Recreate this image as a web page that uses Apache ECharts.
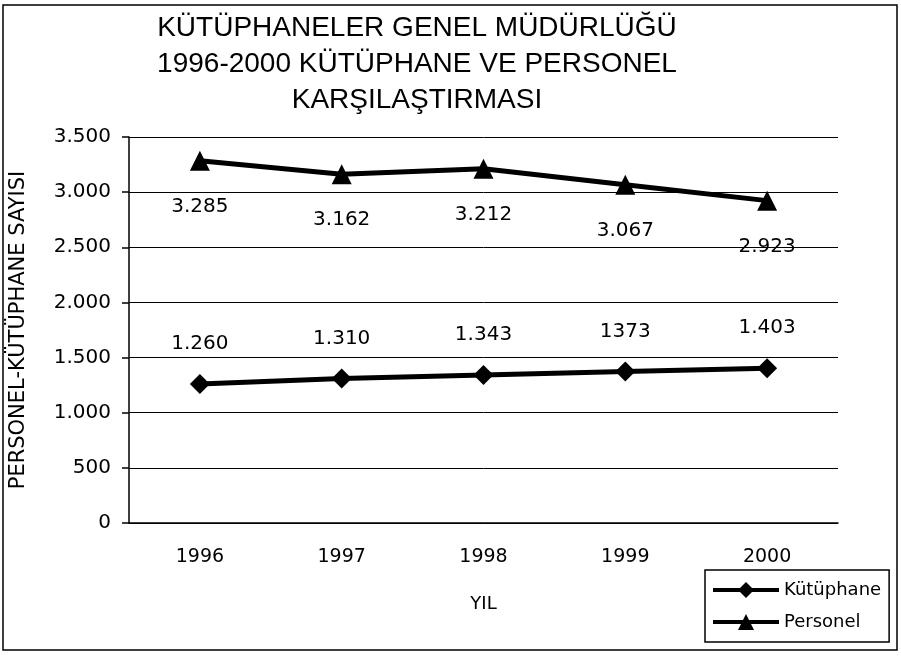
<!DOCTYPE html>
<html>
<head>
<meta charset="utf-8">
<script src="https://cdn.jsdelivr.net/npm/echarts@6/dist/echarts.min.js"></script>
<style>
  html, body { margin: 0; padding: 0; background: #fff; }
  #main { width: 901px; height: 657px; }
</style>
</head>
<body>
<div id="main"></div>
<script>
// veriler
var years = ['1996', '1997', '1998', '1999', '2000'];
var kutuphane = [1260, 1310, 1343, 1373, 1403];
var personel = [3285, 3162, 3212, 3067, 2923];
// grafikteki etiketler (1373 noktasız yazılmış)
var kutuphaneLabels = ['1.260', '1.310', '1.343', '1373', '1.403'];
var personelLabels = ['3.285', '3.162', '3.212', '3.067', '2.923'];
var yTicks = [0, 500, 1000, 1500, 2000, 2500, 3000, 3500];

var TFONT = 'Liberation Sans, Arial, sans-serif';
var FONT = 'DejaVu Sans, sans-serif';

function fmt(v) {
  return String(v).replace(/\B(?=(\d{3})+(?!\d))/g, '.');
}

var chart = echarts.init(document.getElementById('main'), null, { renderer: 'canvas' });

var option = {
  backgroundColor: '#fff',
  animation: false,
  title: {
    text: 'KÜTÜPHANELER GENEL MÜDÜRLÜĞÜ\n1996-2000 KÜTÜPHANE VE PERSONEL\nKARŞILAŞTIRMASI',
    left: 412,
    top: 5,
    textAlign: 'center',
    textStyle: {
      fontFamily: TFONT,
      fontSize: 28,
      fontWeight: 'normal',
      color: '#000',
      lineHeight: 36
    }
  },
  graphic: [{
    type: 'rect',
    shape: { x: 3, y: 5, width: 894, height: 645 },
    style: { fill: 'none', stroke: '#000', lineWidth: 1.5 },
    silent: true
  }],
  legend: {
    orient: 'vertical',
    left: 705,
    top: 570,
    padding: [11, 8, 11, 6],
    itemGap: 14,
    itemWidth: 66,
    itemHeight: 20,
    borderColor: '#000',
    borderWidth: 1.5,
    lineStyle: { width: 4 },
    textStyle: { fontFamily: FONT, fontSize: 18, color: '#000' },
    data: ['Kütüphane', 'Personel']
  },
  grid: { left: 128, right: 63, top: 137, bottom: 134 },
  xAxis: {
    type: 'category',
    data: years,
    boundaryGap: true,
    name: 'YIL',
    nameLocation: 'middle',
    nameGap: 72,
    nameTextStyle: { fontFamily: FONT, fontSize: 18, color: '#000' },
    axisLine: { lineStyle: { color: '#000', width: 1.5 } },
    axisTick: { length: 7, lineStyle: { color: '#000', width: 1.5 } },
    axisLabel: { fontFamily: FONT, fontSize: 19, color: '#000', margin: 25 },
    splitLine: { show: false }
  },
  yAxis: {
    type: 'value',
    min: yTicks[0],
    max: yTicks[yTicks.length - 1],
    interval: 500,
    name: 'PERSONEL-KÜTÜPHANE SAYISI',
    nameLocation: 'middle',
    nameGap: 100,
    nameRotate: 90,
    nameTextStyle: { fontFamily: FONT, fontSize: 21, color: '#000' },
    axisLine: { show: true, lineStyle: { color: '#000', width: 1.5 } },
    axisTick: { show: true, length: 7, lineStyle: { color: '#000', width: 1.5 } },
    axisLabel: { fontFamily: FONT, fontSize: 20, color: '#000', margin: 18, formatter: fmt },
    splitLine: { show: true, lineStyle: { color: '#000', width: 1 } }
  },
  series: [
    {
      name: 'Kütüphane',
      type: 'line',
      data: kutuphane,
      symbol: 'diamond',
      symbolSize: 20,
      color: '#000',
      lineStyle: { color: '#000', width: 5 },
      itemStyle: { color: '#000' },
      label: {
        show: true,
        position: 'top',
        distance: 20,
        fontFamily: FONT,
        fontSize: 20,
        color: '#000',
        formatter: function (p) { return kutuphaneLabels[p.dataIndex]; }
      }
    },
    {
      name: 'Personel',
      type: 'line',
      data: personel,
      symbol: 'triangle',
      symbolSize: 20,
      color: '#000',
      lineStyle: { color: '#000', width: 5 },
      itemStyle: { color: '#000' },
      label: {
        show: true,
        position: 'bottom',
        distance: 26,
        fontFamily: FONT,
        fontSize: 20,
        color: '#000',
        formatter: function (p) { return personelLabels[p.dataIndex]; }
      }
    }
  ]
};

chart.setOption(option);
</script>
</body>
</html>
